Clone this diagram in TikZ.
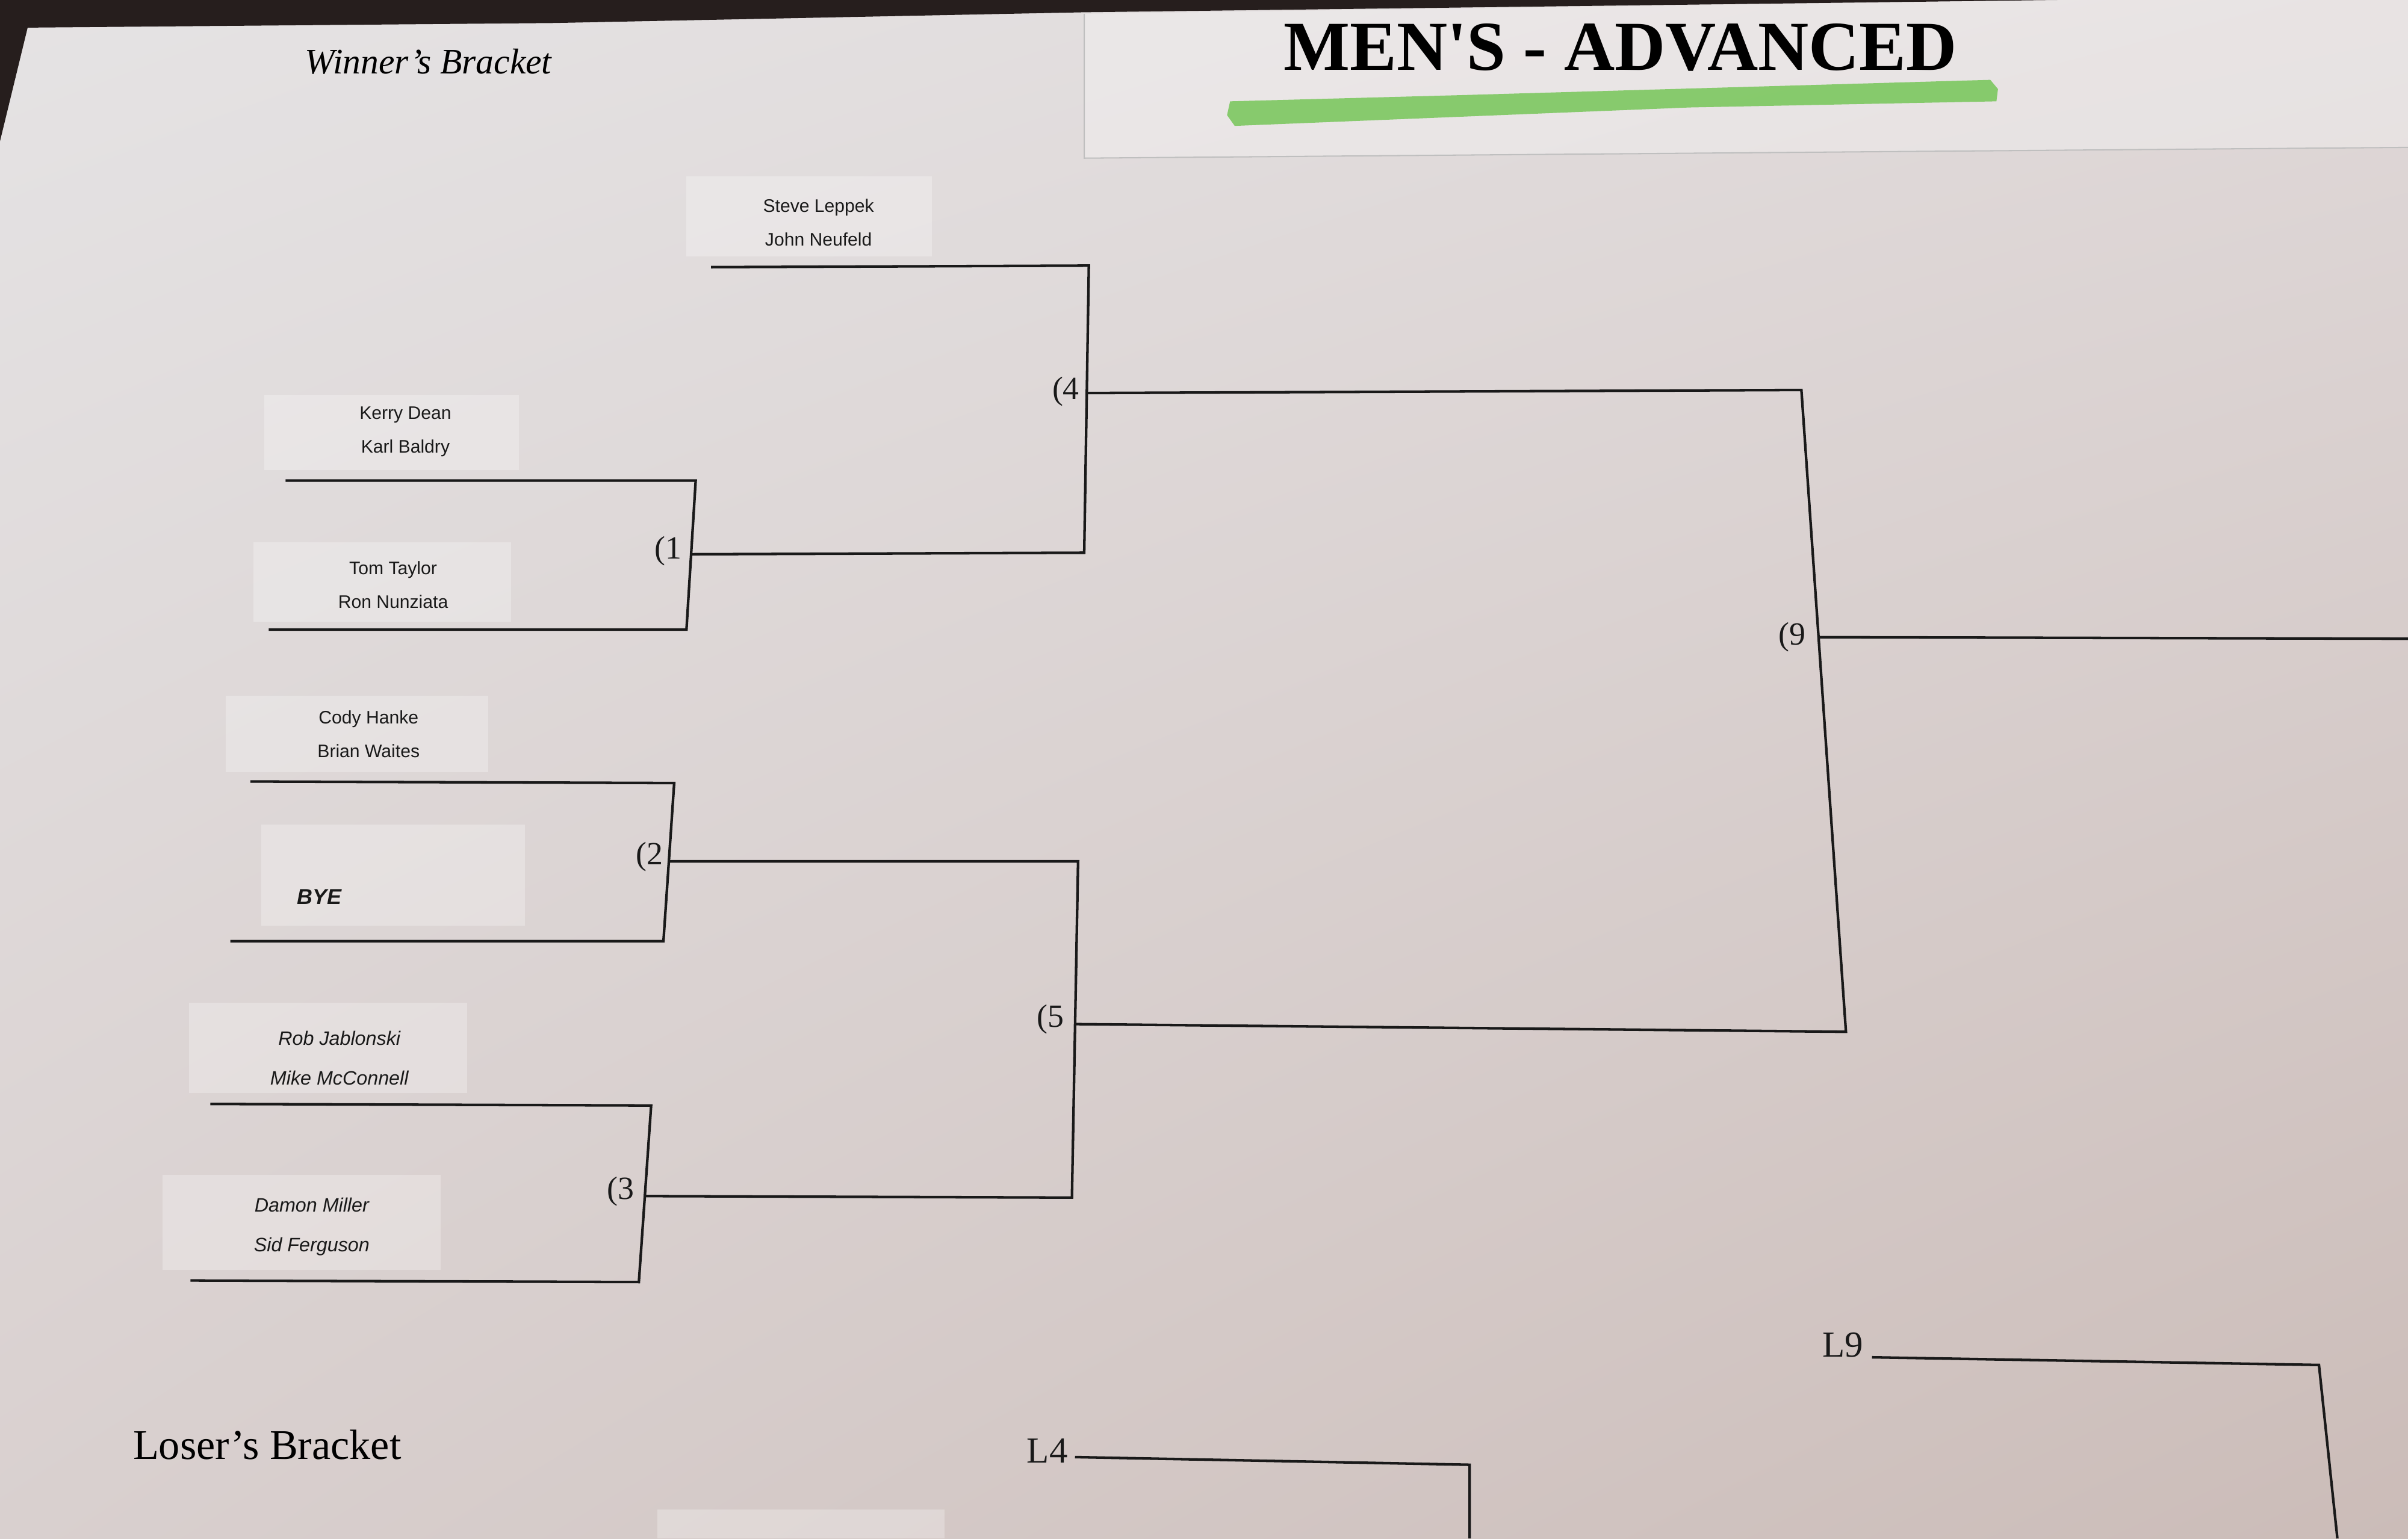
\documentclass[tikz,border=0pt]{standalone}
\usepackage{fontspec}
\usetikzlibrary{shadings}
\setmainfont{Liberation Serif}
\newfontfamily\titlefont[Ligatures=TeXOff]{Liberation Serif}
\newfontfamily\namefont{Liberation Sans}
\definecolor{paperA}{RGB}{229,227,228}
\definecolor{paperB}{RGB}{223,216,216}
\definecolor{paperC}{RGB}{217,208,207}
\definecolor{paperD}{RGB}{203,188,184}
\definecolor{darkedge}{RGB}{38,30,29}
\definecolor{marker}{RGB}{118,198,88}
\begin{document}
\begin{tikzpicture}[x=0.25mm,y=-0.25mm,
  bline/.style={line width=0.42mm, black!90},
  slip/.style={white, opacity=.27},
  names/.style={font=\namefont\fontsize{8.4}{15.6}\selectfont, align=center, inner sep=0pt, black!90},
  inames/.style={font=\namefont\itshape\fontsize{9}{18.5}\selectfont, align=center, inner sep=0pt, black!90},
  game/.style={font=\fontsize{15}{15}\selectfont, inner sep=0pt, black!90}]
\useasboundingbox (0,0) rectangle (1568,1002);
\shade[upper left=paperA, upper right=paperB, lower left=paperC, lower right=paperD] (0,0) rectangle (1568,1002);
% table edge behind the sheet
\fill[darkedge] (0,0) -- (1340,0) -- (706,8) -- (360,15) -- (18,18) -- (0,92) -- cycle;
% title strip
\fill[white, opacity=.3] (706,9) -- (1340,0) -- (1568,0) -- (1568,96) -- (706,103) -- cycle;
\draw[black!25, line width=.2mm] (706,9) -- (706,103) -- (1568,96);
\fill[marker, opacity=.85] (801,66) -- (950,62) -- (1296,52) -- (1301,58) -- (1300,66) -- (1100,70) -- (804,82) -- (799,75) -- cycle;
\node[font=\titlefont\bfseries\fontsize{32.5}{32.5}\selectfont] (title) at (1055,31) {MEN'S - ADVANCED};
\node[font=\itshape\fontsize{16.6}{16.6}\selectfont] (wb) at (279,40) {Winner's Bracket};
\node[font=\fontsize{19.6}{19.6}\selectfont] (lb) at (174,941) {Loser's Bracket};

% name slips
\fill[slip] (447,115) rectangle (607,167);
\fill[slip] (172,257) rectangle (338,306);
\fill[slip] (165,353) rectangle (333,405);
\fill[slip] (147,453) rectangle (318,503);
\fill[slip] (170,537) rectangle (342,603);
\fill[slip] (123,653) rectangle (304,712);
\fill[slip] (106,765) rectangle (287,827);
\fill[slip] (428,983) rectangle (615,1002);
\node[names] (p1) at (533,145) {Steve Leppek\\John Neufeld};
\node[names] (p2) at (264,281) {Kerry Dean\\Karl Baldry};
\node[names] (p3) at (256,381) {Tom Taylor\\Ron Nunziata};
\node[names] (p4) at (240,478) {Cody Hanke\\Brian Waites};
\node[font=\namefont\bfseries\itshape\fontsize{10}{10}\selectfont, black!90] (bye) at (208,584) {BYE};
\node[inames] (p6) at (221,689) {Rob Jablonski\\Mike McConnell};
\node[inames] (p7) at (203,799) {Damon Miller\\Sid Ferguson};

% seed lines
\coordinate (s1) at (463,174);
\coordinate (s2) at (186,313);
\coordinate (s3) at (175,410);
\coordinate (s4) at (163,509);
\coordinate (s5) at (150,613);
\coordinate (s6) at (137,719);
\coordinate (s7) at (124,834);
% games
\coordinate (g1t) at (453,313); \coordinate (g1b) at (447,410); \coordinate (g1) at (450,361);
\coordinate (g2t) at (439,510); \coordinate (g2b) at (432,613); \coordinate (g2) at (436,561);
\coordinate (g3t) at (424,720); \coordinate (g3b) at (416,835); \coordinate (g3) at (420,779);
\coordinate (g4t) at (709,173); \coordinate (g4b) at (706,360); \coordinate (g4) at (708,256);
\coordinate (g5t) at (702,561); \coordinate (g5b) at (698,780); \coordinate (g5) at (700,667);
\coordinate (g9t) at (1173,254); \coordinate (g9b) at (1202,672); \coordinate (g9) at (1184,415);
\coordinate (fin) at (1568,416);

\draw[bline] (s2) -- (g1t) -- (g1b) -- (s3);
\draw[bline] (s4) -- (g2t) -- (g2b) -- (s5);
\draw[bline] (s6) -- (g3t) -- (g3b) -- (s7);
\draw[bline] (s1) -- (g4t) -- (g4b) -- (g1);
\draw[bline] (g2) -- (g5t) -- (g5b) -- (g3);
\draw[bline] (g4) -- (g9t) -- (g9b) -- (g5);
\draw[bline] (g9) -- (fin);

\node[game] (n1) at (435,359) {(1};
\node[game] (n2) at (423,558) {(2};
\node[game] (n3) at (404,776) {(3};
\node[game] (n4) at (694,255) {(4};
\node[game] (n5) at (684,664) {(5};
\node[game] (n9) at (1167,415) {(9};

% loser's side
\node[game, font=\fontsize{17}{17}\selectfont] (l9lab) at (1200,876) {L9};
\node[game, font=\fontsize{17}{17}\selectfont] (l4lab) at (682,945) {L4};
\coordinate (l9) at (1219,884); \coordinate (l9c) at (1510,889); \coordinate (l9e) at (1522,1002);
\coordinate (l4) at (700,949); \coordinate (l4c) at (957,954); \coordinate (l4e) at (957,1002);
\draw[bline] (l9) -- (l9c) -- (l9e);
\draw[bline] (l4) -- (l4c) -- (l4e);
\end{tikzpicture}
\end{document}
